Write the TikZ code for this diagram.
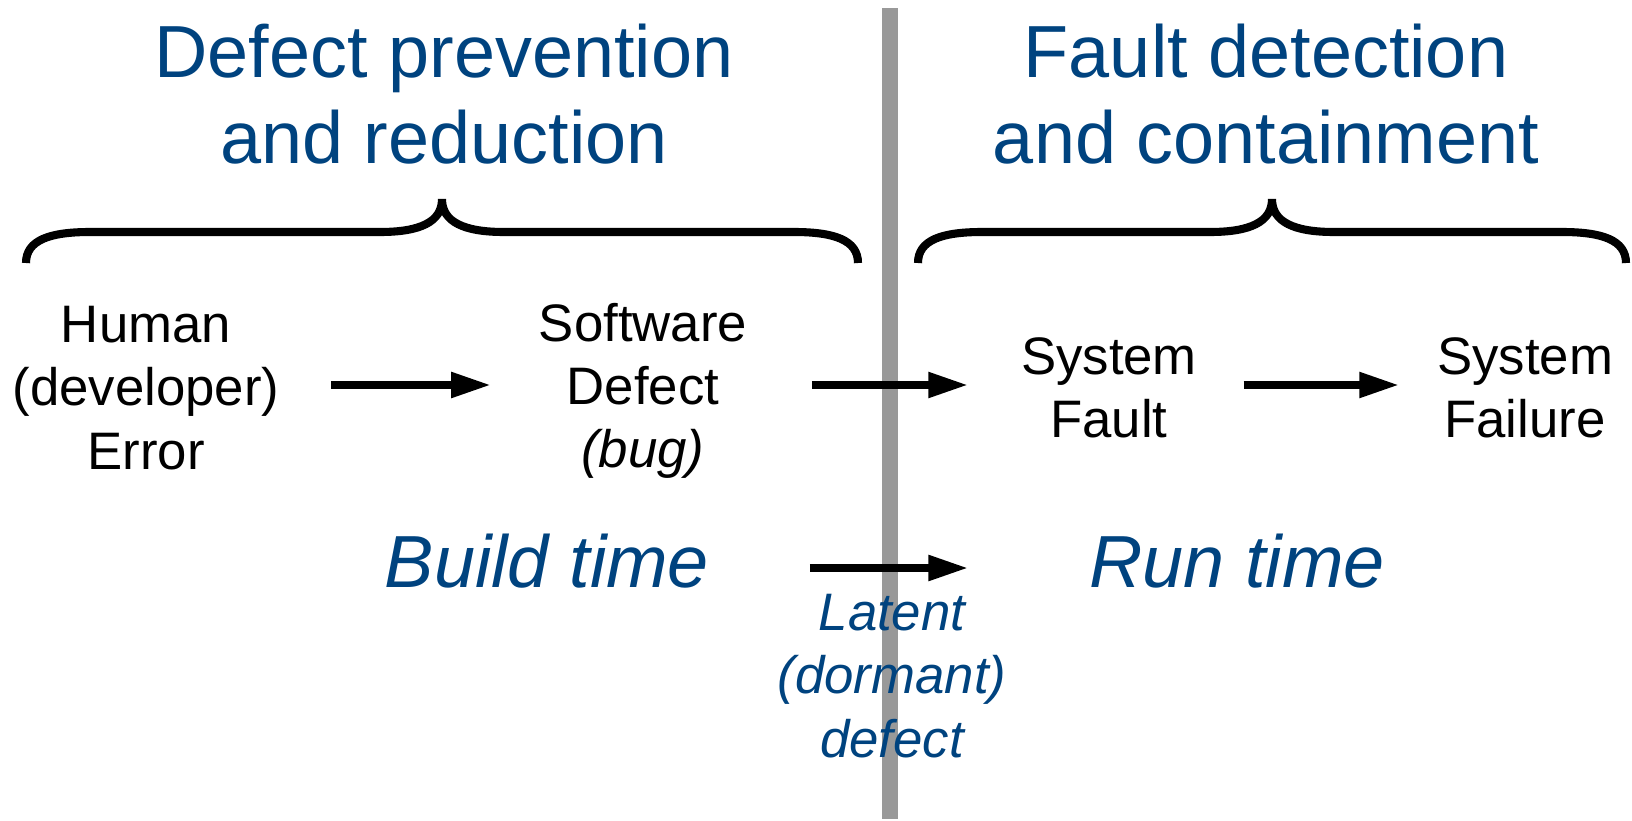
\documentclass[tikz,border=0pt]{standalone}
\usepackage{fontspec}
\setmainfont{Liberation Sans}
\usetikzlibrary{arrows.meta}

\definecolor{headblue}{RGB}{0,67,127}
\definecolor{bargray}{RGB}{153,153,153}

\begin{document}
\begin{tikzpicture}[x=0.01cm,y=-0.01cm,
    every node/.style={inner sep=0pt},
    heading/.style={text=headblue, align=center, font=\fontsize{21}{24.6}\selectfont},
    phase/.style={text=headblue, font=\fontsize{21}{24.6}\selectfont\itshape},
    stage/.style={align=center, font=\fontsize{15}{18}\selectfont},
    dormant/.style={text=headblue, align=center, font=\fontsize{15}{18}\selectfont\itshape},
    flow/.style={line width=2.3pt, -{Triangle[length=0.4cm,width=0.24cm]}},
    curly/.style={line width=2.3pt}]
  \useasboundingbox (0,0) rectangle (1632,821);

  % divider between build time and run time
  \fill[bargray] (882,8) rectangle (898,819);

  % headings
  \node[heading] (prevent) at (444,94) {Defect prevention\\and reduction};
  \node[heading] (detect) at (1266,94) {Fault detection\\and containment};

  % braces
  \draw[curly] (26,263) .. controls (26,240) and (50,232) .. (90,232) -- (380,232)
    .. controls (420,232) and (442,222) .. (442,199)
    .. controls (442,222) and (464,232) .. (504,232) -- (794,232)
    .. controls (834,232) and (858,240) .. (858,263);
  \draw[curly] (918,263) .. controls (918,240) and (942,232) .. (982,232) -- (1210,232)
    .. controls (1250,232) and (1272,222) .. (1272,199)
    .. controls (1272,222) and (1294,232) .. (1334,232) -- (1562,232)
    .. controls (1602,232) and (1626,240) .. (1626,263);

  % chain
  \node[stage] (human) at (146,388) {Human\\(developer)\\Error};
  \node[stage] (software) at (643,391) {Software\\Defect\\\textit{(bug)}};
  \node[stage] (fault) at (1109,388) {System\\Fault};
  \node[stage] (failure) at (1525,388) {System\\Failure};

  \node[phase] (build) at (547,561) {Build time};
  \node[phase] (run) at (1237,561) {Run time};
  \node[dormant] (latent) at (892,676) {Latent\\(dormant)\\defect};

  \coordinate (row) at (0,385);
  \coordinate (lowrow) at (0,568);

  \draw[flow, shorten <=0.51cm, shorten >=0.47cm] (human.east |- row) -- (software.west |- row);
  \draw[flow, shorten <=0.64cm, shorten >=0.52cm] (software.east |- row) -- (fault.west |- row);
  \draw[flow, shorten <=0.46cm, shorten >=0.37cm] (fault.east |- row) -- (failure.west |- row);
  \draw[flow, shorten <=1.00cm, shorten >=1.20cm] (build.east |- lowrow) -- (run.west |- lowrow);
\end{tikzpicture}
\end{document}
